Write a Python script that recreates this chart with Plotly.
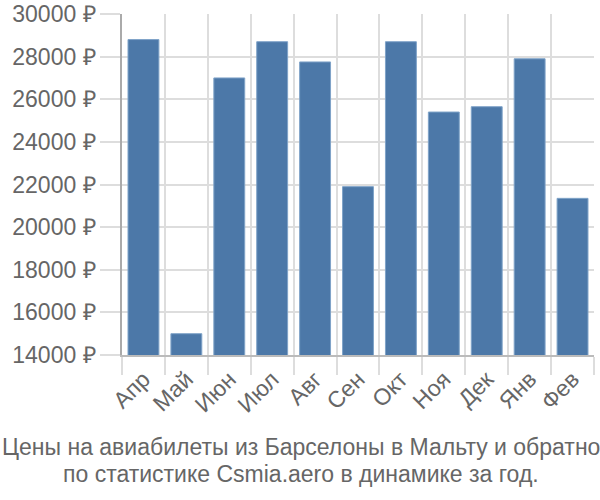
import plotly.graph_objects as go

months = ["Апр", "Май", "Июн", "Июл", "Авг", "Сен", "Окт", "Ноя", "Дек", "Янв", "Фев"]
prices = [28800, 15000, 27000, 28700, 27750, 21900, 28700, 25400, 25650, 27900, 21350]
y_ticks = [14000, 16000, 18000, 20000, 22000, 24000, 26000, 28000, 30000]
y_tick_labels = [f"{v} ₽" for v in y_ticks]
title_lines = ["Цены на авиабилеты из Барселоны в Мальту и обратно",
               "по статистике Csmia.aero в динамике за год."]

FONT = "Liberation Sans, Arial, sans-serif"
GRAY = "#666666"
ML, MR = 122, 6
PLOT_W = 600 - ML - MR

fig = go.Figure(go.Bar(
    x=months, y=prices,
    marker=dict(color="#4c78a8", line=dict(color="#7fa3c8", width=1)),
    width=0.72,
))

annotations = []
for i, line in enumerate(title_lines):
    annotations.append(dict(
        text=line, xref="paper", yref="paper", x=(301 - ML) / PLOT_W, y=0,
        xanchor="center", yanchor="middle", yshift=-92 - 27 * i,
        showarrow=False, font=dict(family=FONT, size=23, color=GRAY),
    ))

fig.update_layout(
    width=600, height=500,
    margin=dict(l=ML, r=MR, t=14, b=145),
    plot_bgcolor="white", paper_bgcolor="white",
    font=dict(family=FONT, size=23, color=GRAY),
    showlegend=False,
    annotations=annotations,
)
fig.update_xaxes(
    type="category", tickson="boundaries", automargin=False,
    showgrid=True, gridcolor="#dddddd", gridwidth=1.5,
    ticks="outside", ticklen=18, tickcolor="#dddddd", tickwidth=1.5,
    tickangle=-45, showline=True, linecolor="#bbbbbb", linewidth=1.5,
    tickfont=dict(family=FONT, size=23, color=GRAY),
)
fig.update_yaxes(
    range=[14000, 30000], tickvals=y_ticks, ticktext=y_tick_labels,
    automargin=False,
    showgrid=True, gridcolor="#dddddd", gridwidth=1.5,
    ticks="outside", ticklen=20, tickcolor="#dddddd", tickwidth=1.5,
    showline=True, linecolor="#aaaaaa", linewidth=1.5, zeroline=False,
    tickfont=dict(family=FONT, size=23, color=GRAY),
)

fig.write_html("out.html")
